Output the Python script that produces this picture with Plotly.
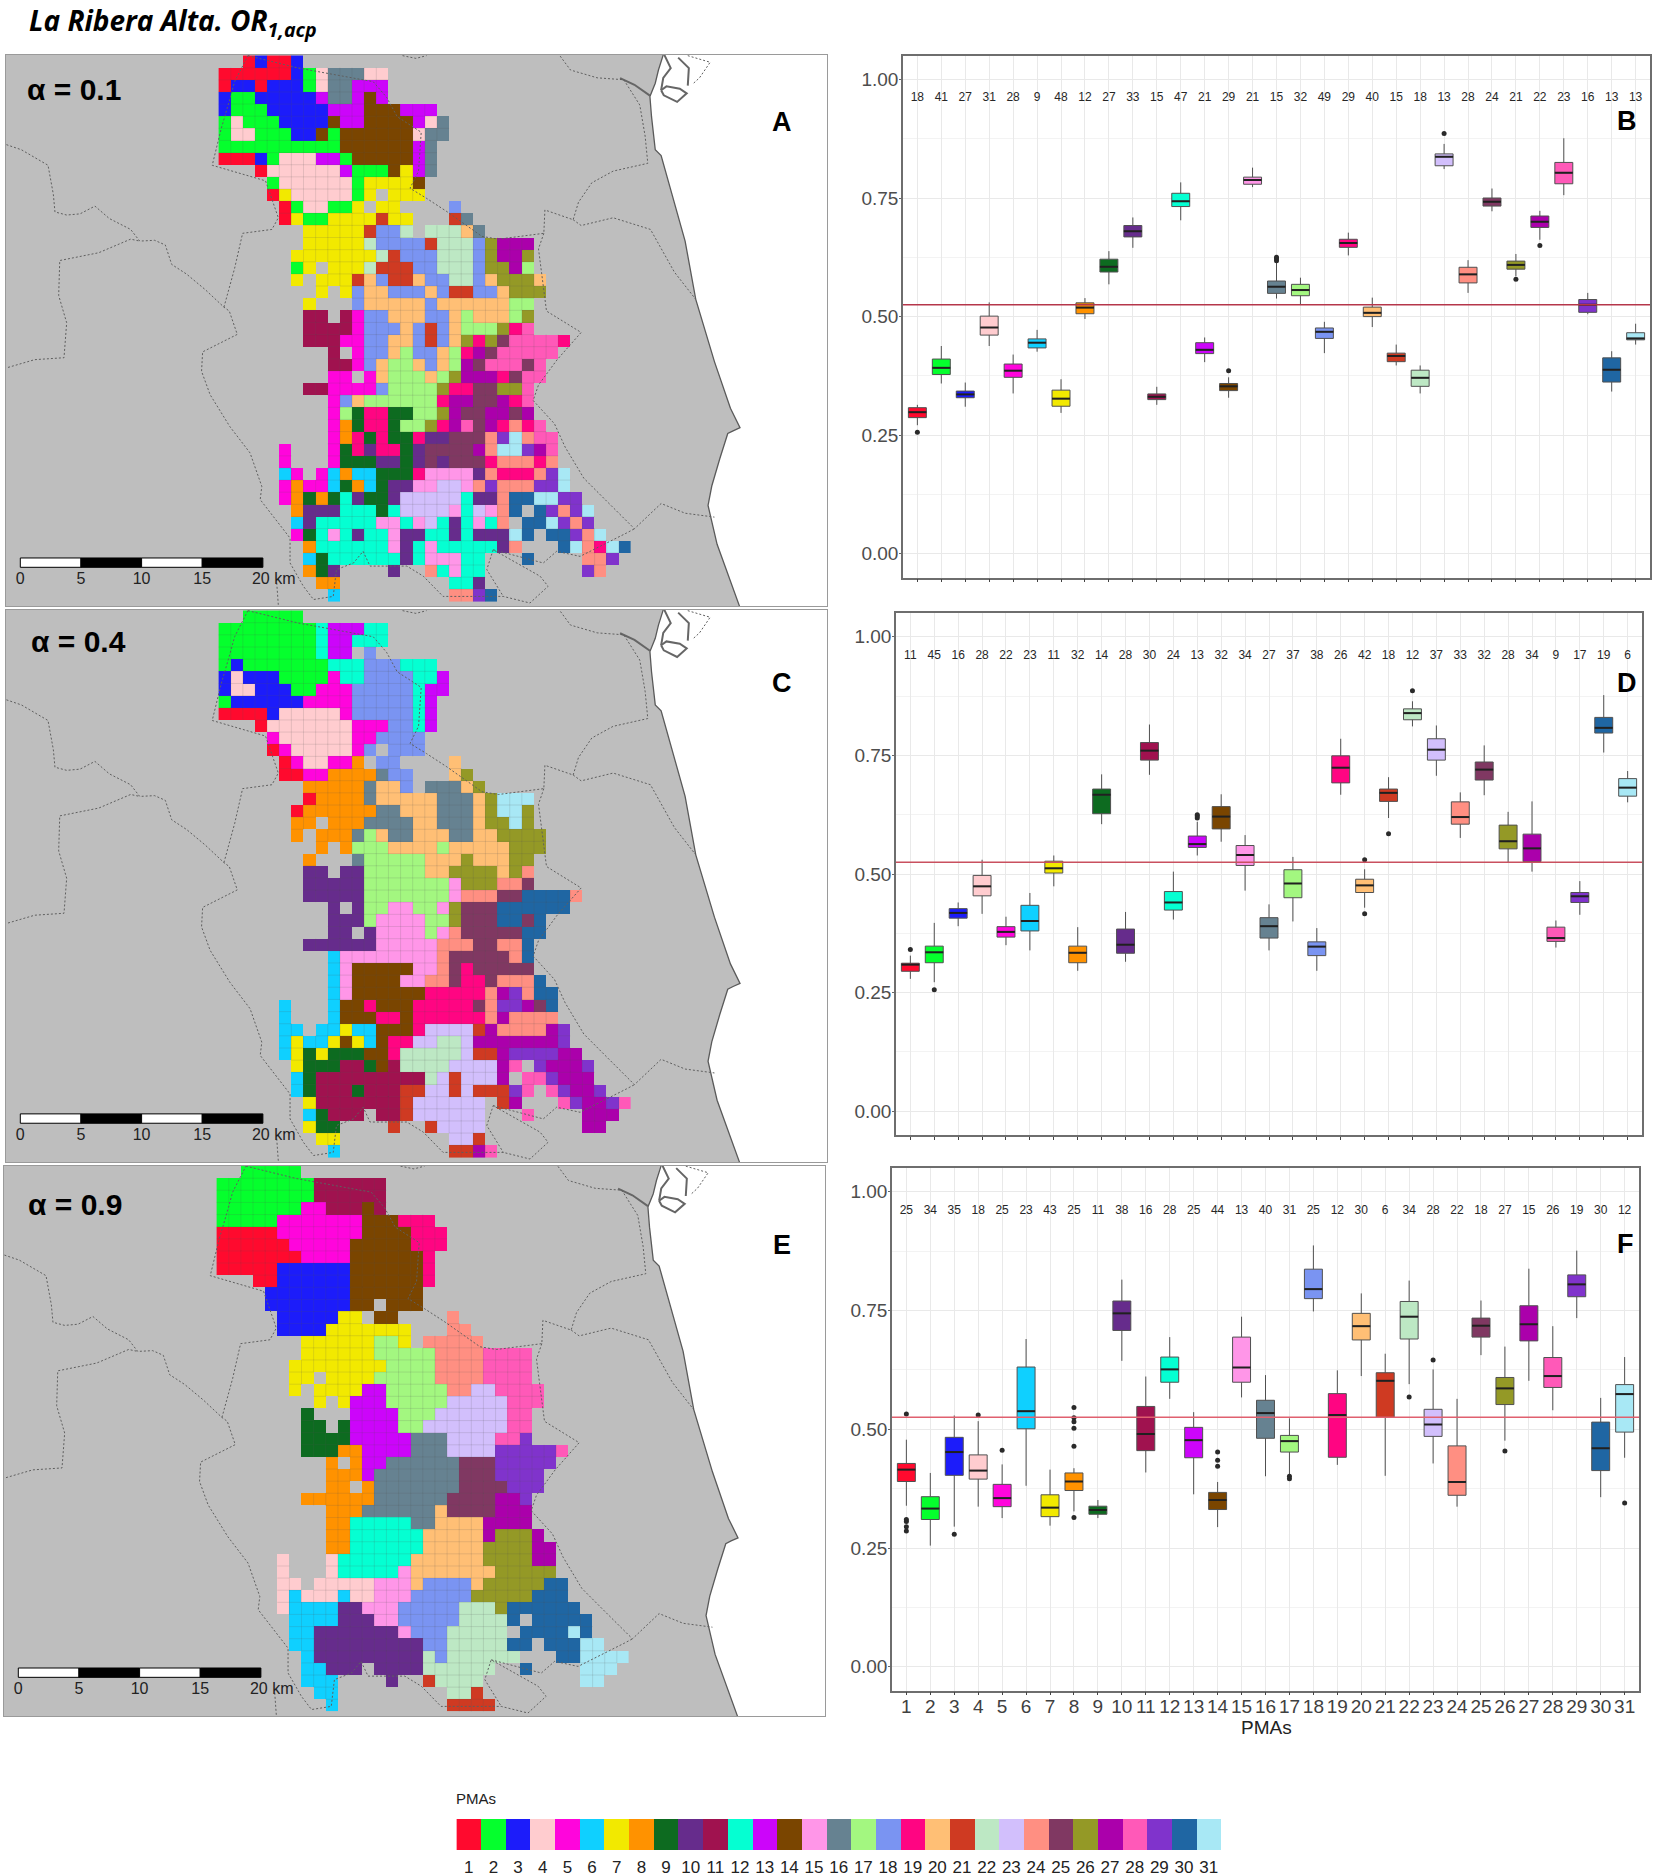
import numpy as np
import plotly.graph_objects as go

W, H = 1653, 1876

pmas = list(range(1, 32))
pma_colors = ["#FF0A2E", "#05FF2D", "#1C1CFA", "#FFCCCF", "#FF05DC", "#0FD0FF", "#F2E900", "#FF9200",
              "#0D6B20", "#662C8C", "#A0124F", "#05FFD2", "#CC05FA", "#7A4500", "#FF96E8", "#668291",
              "#A3F780", "#7A94F2", "#FF0582", "#FFBF75", "#CF3A22", "#BDE8C4", "#D2BFFC", "#FF8F82",
              "#803862", "#949926", "#AB00AB", "#FF59B8", "#8033CC", "#1F66A3", "#A8E8F5"]
code_chars = "123456789abcdefghijklmnopqrstuv"

# map cells, one string per row, one char per km cell, "." is no cell
map_a = [
    "..13113", "111111324ggg44", "133133324ggddd", "32233333dggded", "322233333dddeeeddd",
    "242223333eddeeeed4g", "24422233e2eeeeee4gg", "2222222222eeeeeedg", "11132444dd2eeeeedg",
    "...1444444d222e7dg", "....244444427777e", "....174444427.777", ".....1244227.77....i",
    ".....17227777l77...lg", ".......77777liim.mmmkg", ".......77777miiiilmmmiqrrr",
    "......7777777mliiimmmiqrrq", "......27.777mllliimmmiqqrh", "......7.777lkillkiimmikqqqk",
    "........7.7ikkiiikilliikqqq", ".......7...ikkkkkikkkkkkhh", ".......bb.b5iikkkiikhkkkhq",
    ".......bbbb5iiikilikhhhqjs", ".......bbb55iikkilikqjqpssssj", ".........b.5iikhiikhjrpsssss",
    ".........bb5ikhhkikhrpsssps", ".........55.5khhhkhqrrrjpss", ".......bb5555ihhhhqjjppqqs",
    ".........5ikhhhhhhjrrpprjs", ".........5h9jj99hhqrpprrpr", ".........589jj9hhqjrsprjojs",
    ".........58j9j99jaapppotvoss", ".....5...59jajj9apppprovvtrs", ".....5...5999aa9apapppjooojo",
    ".....65.56866999jffffaojjjotv", ".....585569869aaffnnfotooottv", ".....58989ca99annnnncaaouuvvtt",
    "......8aaaccc9cnnnnfcnfou.utotv", "......6acccccffcfncacfco.uuvtot", "......59cfcaccfaaccacaaavu.uutov",
    ".......8ccccccfacfcccccao...uvojvu", ".......69ccccccacfffcc...u....oot",
    ".......89a....a..ocfcc........to", "........88.........cca", ".........6.........ootu",
]
map_c = [
    "..22222", "22222222cdddcc", "22222222cddccc", "22222222cdd.i", "232222222ccciiiccc",
    "3433322225cciiiiccd", "34433322555iiiiicdd", "23333335555iiiiicd", "11113444445iiiiicd",
    "...14444444555iicd", "....544444455iiii", "....15444445i.iii", ".....1544558.ii....k",
    ".....11558888gii...kq", ".......88888gkki.gggkq", ".......18888gkkkkkgggkqvvv",
    "......1888888ggkkkgggkqvvq", "......88.888ggggkkgggkqqvq", "......8.888ghkggkkkggkkqqqq",
    "........8.8hhhkkkkhkkkkkqqq", ".......8...ghhhhhkkkqkkkqq", ".......aa.aahhhhhkkqqqqkqo",
    ".......aaaaahhhhhhhfqqqoop", ".......aaaaahhhhhhhfoooppuuuuo", ".........a.ahhffhhfqpppuuuuuu",
    ".........aaahffffhhqpppuupu", ".........aa.affffhfopppppuu", ".......aaaaaafffffoooppoou",
    ".........6ffffffffopppppou", ".........6feeeeeffopjppppp", ".........6feeeeffoopjjpooou",
    ".........6feeeeeejjjjjortouu", ".....6...6eejeeejjjjjpottrpu", ".....6...6eeejjejjjjjjoroooo",
    ".....66.66766eeejnnnnlroooort", ".....67667e76ejjnnmmnrrrrrrrt", ".....6797999eejmmmmmnllrttttrr",
    "......7999bb9ebmmmmnnnnrs.trrrt", "......69bbbbbbbbbmnlnnnr.sstrrr", "......69bbb9bbbllnnlnlllts.strrt",
    ".......7bbbbbbblnnnnnn.lr...strrts", ".......69bbb.bblnnnnnn...s....rrr",
    ".......799....l..lnnnn........rr", "........77.........nnl", ".........6.........llrs",
]
map_e = [
    "..22222", "22222222bbbbbb", "22222222bbbbbb", "222222255bbbeb", "222225555555eeejjj",
    "111115555555eeeejjj", "11111155555eeeeejjj", "11111115555eeeeeej", "11111333333eeeeeej",
    "...11333333eeeeeej", "....3333333eeeeee", "....3333333ee.eee", ".....3333377.ee....o",
    ".....33337777777...oo", ".......777777hh7.ooooo", ".......777777hhhhhoooossss",
    "......77777777hhhhoooossss", "......77.7777hhhhhoooossss", "......7.7777ddhhhhhoonnssss",
    "........7.7dddhhhhhnnnnnsss", ".......9...ddddhhhnnnnnnss", ".......99.9ddddhhnnnnnnnss",
    ".......9999dddddgggnnnnsst", ".......99988ddddgggnnnnttttts", ".........8.8ddggggggpppttttt",
    ".........888dgggggggppptttt", ".........88.8gggggggppppttt", ".......888888ggggggpppprrt",
    ".........888ggggggkpppprrr", ".........88cccccggkkkkrrrr", ".........88cccccckkkkkrqqqr",
    ".........88cccccckkkkkqqqqrr", ".....4...4cccccckkkkkkqqqqrr", ".....4...4cccccfkkkkkkkqqqqq",
    ".....44.44444fffkiiiikqqqqquu", ".....46444644fffiiiiiqqqqquuu", ".....46666aafffiiiiimmmquuuuuu",
    "......6666aaaffiiiiimmmmu.uuuuu", "......66aaaaaaafiiimmmmm.uuuuvu", "......66aaaaaaaaaiimmmmmuu.uuuvv",
    ".......6aaaaaaaaamimmmmmm...uuvvvv", ".......66aaa.aaaammmmmm..u....vvv",
    ".......666....a..lmmmm........vv", "........66.........mml", ".........6.........llll",
]

# outlines (x, y as read on the first map, before scaling to km cells)
coast = [(1244, 141), (1235, 180), (1229, 214), (1219, 248), (1222, 300), (1229, 385), (1240, 400),
         (1260, 500), (1285, 620), (1305, 770), (1340, 930), (1370, 1050), (1388, 1100), (1375, 1108),
         (1365, 1115), (1350, 1180), (1335, 1250), (1328, 1300), (1345, 1400), (1387, 1559)]
sea_corners = [(1553, 1559), (1553, 141)]
port_lines = [
    [(1163, 201), (1190, 218), (1219, 246)],
    [(1240, 232), (1250, 222), (1275, 228), (1288, 240), (1270, 262), (1245, 245), (1240, 232)],
    [(1246, 141), (1258, 175), (1244, 200), (1240, 232)],
    [(1272, 148), (1292, 175), (1290, 220)],
]
port_dashes = [[(1290, 143), (1332, 160), (1312, 200), (1300, 215)]]
boundaries = [
    [(12, 372), (40, 385), (90, 425), (100, 500), (103, 545), (125, 553), (150, 550), (178, 530), (205, 562),
     (245, 590), (262, 620), (290, 618), (310, 630), (322, 680), (350, 705), (385, 745), (420, 790), (430, 800),
     (445, 860), (380, 905), (378, 955), (394, 1015), (431, 1097), (469, 1165), (491, 1251), (488, 1285),
     (544, 1384), (544, 1448), (569, 1508), (588, 1542), (625, 1534), (631, 1465), (663, 1448), (681, 1418),
     (694, 1456), (763, 1456), (794, 1482), (831, 1534), (944, 1534), (994, 1551), (1028, 1508), (1013, 1482),
     (925, 1414), (913, 1465), (944, 1534)],
    [(15, 945), (65, 925), (120, 920), (125, 830), (110, 760), (112, 670), (185, 650), (245, 615), (262, 620)],
    [(420, 790), (440, 690), (455, 600), (510, 590), (522, 560), (505, 490), (498, 465), (398, 425), (415, 330),
     (430, 260), (440, 210), (465, 143)],
    [(465, 143), (560, 175), (700, 210), (725, 250), (745, 300), (790, 340), (785, 440), (769, 484), (800, 510),
     (838, 544), (870, 575), (904, 608), (935, 615), (1020, 600), (1022, 540), (1075, 565), (1085, 520),
     (1110, 470), (1150, 440), (1215, 420), (1210, 350), (1200, 270), (1170, 205), (1120, 200), (1070, 180),
     (1050, 143)],
    [(1020, 600), (1010, 640), (1025, 800), (1090, 855), (1045, 925), (1010, 990), (1000, 1030), (1040, 1090),
     (1060, 1150), (1095, 1230), (1135, 1285), (1190, 1360), (1240, 1295), (1285, 1320), (1340, 1330)],
    [(1075, 565), (1090, 580), (1150, 560), (1220, 590), (1265, 700), (1305, 770)],
    [(925, 1414), (1019, 1448), (1044, 1418), (1088, 1431), (1175, 1371), (1190, 1360)],
    [(519, 1499), (522, 1557)],
    [(755, 143), (780, 150), (800, 143)],
]

# box plots, one value per PMA
b_n = [18, 41, 27, 31, 28, 9, 48, 12, 27, 33, 15, 47, 21, 29, 21, 15, 32, 49, 29, 40, 15, 18, 13, 28, 24, 21, 22, 23, 16, 13, 13]
b_q1 = [.287, .378, .329, .461, .372, .434, .311, .506, .594, .668, .325, .732, .422, .344, .779, .549, .544, .454, .646, .500, .405, .353, .818, .571, .733, .600, .688, .780, .509, .362, .451]
b_med = [.2985, .392, .336, .477, .386, .445, .327, .519, .605, .680, .331, .743, .430, .353, .788, .563, .556, .468, .655, .508, .417, .371, .837, .589, .742, .609, .700, .803, .525, .388, .454]
b_q3 = [.308, .4105, .343, .501, .400, .453, .345, .529, .621, .692, .337, .760, .445, .359, .794, .575, .568, .476, .663, .520, .423, .387, .843, .604, .750, .617, .712, .825, .536, .413, .466]
b_low = [.271, .359, .310, .438, .338, .426, .297, .495, .568, .645, .314, .703, .404, .329, .773, .538, .526, .423, .629, .478, .397, .338, .811, .550, .722, .585, .662, .756, .505, .342, .441]
b_high = [.314, .438, .361, .530, .420, .472, .368, .539, .638, .709, .352, .783, .456, .372, .814, .613, .582, .489, .677, .540, .441, .397, .864, .619, .770, .632, .723, .876, .550, .427, .485]
b_out_x = [1, 14, 16, 16, 16, 23, 26, 27]
b_out_y = [.256, .386, .618, .622, .625, .886, .579, .650]

d_n = [11, 45, 16, 28, 22, 23, 11, 32, 14, 28, 30, 24, 13, 32, 34, 27, 37, 38, 26, 42, 18, 12, 37, 33, 32, 28, 34, 9, 17, 19, 6]
d_q1 = [.295, .313, .407, .454, .367, .380, .502, .313, .627, .333, .740, .424, .556, .595, .518, .365, .450, .328, .692, .461, .653, .825, .740, .605, .698, .553, .526, .358, .440, .797, .664]
d_med = [.309, .335, .418, .474, .378, .401, .512, .334, .667, .351, .760, .440, .563, .621, .540, .390, .480, .347, .724, .476, .671, .839, .762, .620, .720, .569, .554, .365, .453, .808, .682]
d_q3 = [.312, .348, .427, .497, .389, .434, .527, .348, .679, .384, .777, .463, .580, .642, .560, .408, .509, .357, .749, .489, .679, .848, .785, .652, .736, .603, .584, .388, .461, .830, .701]
d_low = [.279, .272, .390, .416, .350, .339, .474, .296, .605, .315, .709, .404, .539, .568, .465, .339, .400, .296, .667, .429, .618, .811, .707, .576, .666, .524, .505, .345, .414, .756, .651]
d_high = [.328, .397, .440, .530, .410, .460, .539, .388, .710, .420, .815, .505, .610, .668, .582, .436, .536, .386, .785, .510, .704, .864, .813, .672, .771, .631, .653, .402, .485, .877, .717]
d_out_x = [1, 2, 13, 13, 13, 20, 20, 21, 22]
d_out_y = [.341, .256, .618, .622, .625, .530, .416, .585, .886]

f_n = [25, 34, 35, 18, 25, 23, 43, 25, 11, 38, 16, 28, 25, 44, 13, 40, 31, 25, 12, 30, 6, 34, 28, 22, 18, 27, 15, 26, 19, 30, 12]
f_q1 = [.390, .310, .403, .395, .337, .501, .316, .371, .321, .708, .455, .599, .440, .331, .599, .481, .452, .775, .441, .688, .525, .690, .485, .361, .694, .552, .686, .588, .779, .413, .494]
f_med = [.415, .333, .452, .413, .355, .538, .335, .390, .330, .744, .490, .626, .477, .351, .630, .534, .475, .795, .530, .717, .602, .737, .510, .389, .718, .586, .721, .612, .805, .460, .574]
f_q3 = [.428, .358, .483, .446, .384, .631, .362, .408, .338, .770, .548, .652, .504, .367, .694, .561, .487, .837, .575, .744, .619, .769, .542, .465, .734, .609, .760, .651, .825, .515, .594]
f_low = [.339, .255, .295, .337, .313, .381, .297, .327, .313, .644, .409, .564, .363, .294, .567, .401, .404, .748, .425, .612, .402, .595, .428, .337, .656, .476, .602, .540, .734, .357, .440]
f_high = [.478, .408, .529, .517, .426, .690, .415, .418, .351, .815, .611, .694, .536, .389, .737, .614, .523, .887, .624, .786, .659, .813, .626, .564, .771, .674, .838, .717, .876, .566, .652]
f_out_x = [1, 1, 1, 1, 1, 3, 4, 5, 8, 8, 8, 8, 8, 8, 14, 14, 14, 17, 17, 22, 23, 26, 31]
f_out_y = [.532, .310, .306, .295, .286, .279, .530, .456, .546, .524, .516, .502, .464, .314, .452, .435, .422, .401, .396, .568, .646, .454, .345]

threshold = 0.525
scale_km = [0, 5, 10, 15, 20]
y_ticks = [0, .25, .5, .75, 1]
y_minor = [.125, .375, .625, .875]


def dx(a, b):
    return [a / W, b / W]


def dy(a, b):
    return [1 - b / H, 1 - a / H]


def to_km(points):
    xs = [(p[0] - 410) / 22.75 for p in points]
    ys = [(p[1] - 174) / 31.2 + 1 for p in points]
    return xs, ys


def join_paths(paths):
    xs, ys = [], []
    for p in paths:
        a, b = to_km(p)
        xs += a + [None]
        ys += b + [None]
    return xs, ys


def grid_to_z(rows):
    ncol = max(len(r) for r in rows)
    z = []
    for r in rows:
        z.append([code_chars.index(c) + 1 if c != "." else None for c in r.ljust(ncol, ".")])
    return z


def cell_edges(z):
    # thin lines only where two cells touch
    xs, ys = [], []
    for r, row in enumerate(z):
        for c, v in enumerate(row):
            if v is None:
                continue
            if c + 1 < len(row) and row[c + 1] is not None:
                xs += [c + 1, c + 1, None]
                ys += [r, r + 1, None]
            if r + 1 < len(z) and z[r + 1][c] is not None:
                xs += [c, c + 1, None]
                ys += [r + 1, r + 1, None]
    return xs, ys


steps = []
for i, c in enumerate(pma_colors):
    steps += [[i / 31, c], [(i + 1) / 31, c]]

fig = go.Figure()
shapes = []
annots = []
FONT = "Liberation Sans"


def label(x, y, text, size, color="black", anchor="center", family=FONT):
    annots.append(dict(x=x / W, y=1 - y / H, xref="paper", yref="paper", text=text, showarrow=False,
                       xanchor=anchor, yanchor="middle", font=dict(size=size, color=color, family=family)))


def add_map(idx, rows, box, alpha_text, alpha_pos, letter, letter_pos):
    xa, ya = f"x{idx}", f"y{idx}"
    fig.layout[f"xaxis{idx}"] = dict(domain=dx(box[0], box[1]), range=[-17.53, 50.16], anchor=ya,
                                     showgrid=False, zeroline=False, showticklabels=False, ticks="",
                                     showline=True, mirror=True, linecolor="#9A9A9A", linewidth=1)
    fig.layout[f"yaxis{idx}"] = dict(domain=dy(box[2], box[3]), range=[45.38, -0.047], anchor=xa,
                                     showgrid=False, zeroline=False, showticklabels=False, ticks="",
                                     showline=True, mirror=True, linecolor="#9A9A9A", linewidth=1)
    shapes.append(dict(type="rect", xref=xa, yref=ya, x0=-17.53, x1=50.16, y0=-0.047, y1=45.38,
                       fillcolor="#BEBEBE", line_width=0, layer="below"))
    z = grid_to_z(rows)
    fig.add_trace(go.Heatmap(z=z, x=np.arange(len(z[0])) + 0.5, y=np.arange(len(z)) + 0.5, xaxis=xa, yaxis=ya,
                             colorscale=steps, zmin=0.5, zmax=31.5, showscale=False, hoverinfo="skip"))
    ex, ey = cell_edges(z)
    fig.add_trace(go.Scatter(x=ex, y=ey, xaxis=xa, yaxis=ya, mode="lines", hoverinfo="skip",
                             line=dict(color="rgba(90,90,90,0.16)", width=1)))
    sx, sy = to_km(coast + sea_corners)
    fig.add_trace(go.Scatter(x=sx, y=sy, xaxis=xa, yaxis=ya, mode="none", fill="toself", fillcolor="white",
                             hoverinfo="skip"))
    cx, cy = to_km(coast)
    fig.add_trace(go.Scatter(x=cx, y=cy, xaxis=xa, yaxis=ya, mode="lines", hoverinfo="skip",
                             line=dict(color="#5A5A5A", width=1.3)))
    px_, py_ = join_paths(port_lines)
    fig.add_trace(go.Scatter(x=px_, y=py_, xaxis=xa, yaxis=ya, mode="lines", hoverinfo="skip",
                             line=dict(color="#666666", width=2)))
    qx, qy = join_paths(port_dashes + boundaries)
    fig.add_trace(go.Scatter(x=qx, y=qy, xaxis=xa, yaxis=ya, mode="lines", hoverinfo="skip",
                             line=dict(color="#5F5F5F", width=1, dash="2px,2px")))
    # scale bar, 1 km is one cell
    left = -16.35
    for j in range(4):
        shapes.append(dict(type="rect", xref=xa, yref=ya, x0=left + scale_km[j], x1=left + scale_km[j + 1],
                           y0=41.42, y1=42.19, fillcolor="white" if j % 2 == 0 else "black",
                           line=dict(color="black", width=1)))
    fig.add_trace(go.Scatter(x=[left + k for k in scale_km[:-1]], y=[43.23] * 4, xaxis=xa, yaxis=ya, mode="text",
                             text=[str(k) for k in scale_km[:-1]], textposition="middle center", hoverinfo="skip",
                             textfont=dict(size=16, color="#222222", family=FONT)))
    fig.add_trace(go.Scatter(x=[left + 20 - 0.9], y=[43.23], xaxis=xa, yaxis=ya, mode="text", text=["20 km"],
                             textposition="middle right", hoverinfo="skip",
                             textfont=dict(size=16, color="#222222", family=FONT)))
    label(alpha_pos[0], alpha_pos[1], "<b>" + alpha_text + "</b>", 30, anchor="left")
    label(letter_pos[0], letter_pos[1], "<b>" + letter + "</b>", 27)


def add_boxes(idx, box, n, q1, med, q3, low, high, out_x, out_y, line_color, letter, letter_pos, show_x):
    xa, ya = f"x{idx}", f"y{idx}"
    fig.layout[f"xaxis{idx}"] = dict(domain=dx(box[0], box[1]), range=[0.4, 31.6], anchor=ya, tickmode="array",
                                     tickvals=pmas, ticktext=[str(p) for p in pmas], showticklabels=show_x,
                                     tickangle=0, ticks="outside", ticklen=3, tickcolor="#444444", showgrid=True,
                                     gridcolor="#E9E9E9", gridwidth=1, zeroline=False, showline=True, mirror=True,
                                     linecolor="#6E6E6E", linewidth=1.5, ticklabelstandoff=-5,
                                     tickfont=dict(size=19, color="#404040", family=FONT))
    fig.layout[f"yaxis{idx}"] = dict(domain=dy(box[2], box[3]), range=[-0.05, 1.05], anchor=xa, tickmode="array",
                                     tickvals=y_ticks, ticktext=[f"{v:.2f}" for v in y_ticks], ticks="outside",
                                     ticklen=2, tickcolor="#666666", showgrid=True, gridcolor="#E9E9E9", zeroline=False,
                                     showline=True, mirror=True, linecolor="#6E6E6E", linewidth=1.5,
                                     ticklabelstandoff=-3, tickfont=dict(size=19, color="#4D4D4D", family=FONT),
                                     minor=dict(tickmode="array", tickvals=y_minor, showgrid=True,
                                                gridcolor="#F3F3F3", ticks=""))
    mx, my = [], []
    for i, p in enumerate(pmas):
        fig.add_trace(go.Box(x=[p], q1=[q1[i]], median=[med[i]], q3=[q3[i]], lowerfence=[low[i]],
                             upperfence=[high[i]], width=0.75, whiskerwidth=0, boxpoints=False,
                             fillcolor=pma_colors[i], line=dict(color="#505050", width=1), xaxis=xa, yaxis=ya,
                             hoverinfo="skip"))
        mx += [p - 0.375, p + 0.375, None]
        my += [med[i], med[i], None]
    fig.add_trace(go.Scatter(x=mx, y=my, xaxis=xa, yaxis=ya, mode="lines", hoverinfo="skip",
                             line=dict(color="#202020", width=2)))
    fig.add_trace(go.Scatter(x=out_x, y=out_y, xaxis=xa, yaxis=ya, mode="markers", hoverinfo="skip",
                             marker=dict(size=5, color="#2A2A2A")))
    fig.add_trace(go.Scatter(x=[0.4, 31.6], y=[threshold, threshold], xaxis=xa, yaxis=ya, mode="lines",
                             hoverinfo="skip", line=dict(color=line_color, width=1.5)))
    fig.add_trace(go.Scatter(x=pmas, y=[0.96] * 31, xaxis=xa, yaxis=ya, mode="text", text=[str(v) for v in n],
                             textposition="middle center", hoverinfo="skip",
                             textfont=dict(size=12, color="#262626", family=FONT)))
    label(letter_pos[0], letter_pos[1], "<b>" + letter + "</b>", 27)


add_map(1, map_a, (6, 827, 55, 606), "α = 0.1", (25, 89), "A", (782, 122))
add_map(2, map_c, (6, 827, 610, 1162), "α = 0.4", (29, 641), "C", (782, 683))
add_map(3, map_e, (4, 825, 1165.5, 1716), "α = 0.9", (26, 1204), "E", (782, 1245))

add_boxes(4, (903, 1650, 55.7, 577.5), b_n, b_q1, b_med, b_q3, b_low, b_high, b_out_x, b_out_y, "#B5364A", "B", (1627, 121), False)
add_boxes(5, (896, 1642, 613, 1135), d_n, d_q1, d_med, d_q3, d_low, d_high, d_out_x, d_out_y, "#C9505F", "D", (1627, 683), False)
add_boxes(6, (892, 1639, 1168, 1690.5), f_n, f_q1, f_med, f_q3, f_low, f_high, f_out_x, f_out_y, "#E0606F", "F", (1625, 1244), True)
label(1266, 1727, "PMAs", 19, color="#222222")

# colour key
fig.layout["xaxis7"] = dict(domain=dx(456.4, 1221), range=[0.5, 31.5], anchor="y7", tickmode="array", tickvals=pmas,
                            ticktext=[str(p) for p in pmas], ticks="", showgrid=False, zeroline=False, tickangle=0,
                            ticklabelstandoff=5, tickfont=dict(size=17, color="#222222", family=FONT))
fig.layout["yaxis7"] = dict(domain=dy(1819, 1850), range=[0, 1], anchor="x7", showticklabels=False, ticks="",
                            showgrid=False, zeroline=False)
fig.add_trace(go.Heatmap(z=[pmas], x=pmas, y=[0.5], xaxis="x7", yaxis="y7", colorscale=steps, zmin=0.5, zmax=31.5,
                         showscale=False, hoverinfo="skip"))
label(454, 1798, "PMAs", 15, color="#222222", anchor="left")

label(27, 22, "<b><i>La Ribera Alta. OR<sub>1,acp</sub></i></b>", 28, anchor="left", family="Open Sans")

fig.update_layout(width=W, height=H, margin=dict(l=0, r=0, t=0, b=0), plot_bgcolor="white", paper_bgcolor="white",
                  showlegend=False, boxmode="overlay", shapes=shapes, annotations=annots)

fig.write_html("out.html", config=dict(displayModeBar=False), post_script="document.body.style.margin='0';")
